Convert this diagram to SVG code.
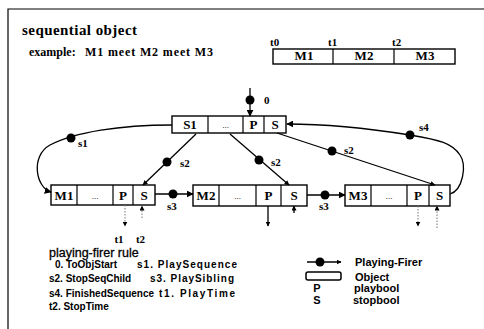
<svg xmlns="http://www.w3.org/2000/svg" width="484" height="329" viewBox="0 0 484 329">
<defs>
<marker id="ah" viewBox="0 0 10 10" refX="9" refY="5" markerWidth="7" markerHeight="7" markerUnits="userSpaceOnUse" orient="auto"><path d="M0,0 L10,5 L0,10 z" fill="#000"/></marker>
<marker id="ahs" viewBox="0 0 10 10" refX="9" refY="5" markerWidth="5" markerHeight="5" markerUnits="userSpaceOnUse" orient="auto"><path d="M0,0 L10,5 L0,10 z" fill="#000"/></marker>
</defs>
<style>
.box{fill:#fff;stroke:#000;stroke-width:1.4}
.cell{stroke:#000;stroke-width:1.2}
.lbl{font-family:"Liberation Serif",serif;font-weight:bold;font-size:13px;text-anchor:middle;fill:#000}
.dots{font-family:"Liberation Serif",serif;font-size:9px;text-anchor:middle;fill:#000}
.conn{fill:none;stroke:#000;stroke-width:1.3}
.faint{fill:none;stroke:#777;stroke-width:1;stroke-dasharray:1.5,1.5}
.dot{fill:#000}
.sl{font-family:"Liberation Serif",serif;font-weight:bold;font-size:11px;fill:#000}
.leg{font-family:"Liberation Sans",sans-serif;font-weight:bold;font-size:10px;fill:#000}
.legr{font-family:"Liberation Sans",sans-serif;font-weight:bold;font-size:11px;fill:#000}
</style>

<path d="M8,329 V9 H484" fill="none" stroke="#000" stroke-width="1.2"/>

<g id="title">
<text x="22" y="35" font-family="Liberation Serif, serif" font-weight="bold" font-size="15" textLength="115">sequential object</text>
<text x="29" y="56" font-family="Liberation Serif, serif" font-weight="bold" font-size="12">example:</text>
<text x="85" y="56" font-family="Liberation Serif, serif" font-weight="bold" font-size="12" textLength="128">M1 meet M2 meet M3</text>
</g>

<g id="timeline">
<text class="sl" x="270" y="46" font-size="10">t0</text>
<text class="sl" x="328" y="46" font-size="10">t1</text>
<text class="sl" x="392" y="46" font-size="10">t2</text>
<rect class="box" x="273" y="49" width="182" height="15"/>
<line class="cell" x1="333" y1="49" x2="333" y2="64"/>
<line class="cell" x1="394" y1="49" x2="394" y2="64"/>
<text class="lbl" x="304" y="60" font-size="9.5">M1</text>
<text class="lbl" x="364" y="60" font-size="9.5">M2</text>
<text class="lbl" x="425" y="60" font-size="9.5">M3</text>
</g>

<g id="S1">
<rect class="box" x="172" y="116" width="114" height="17"/>
<line class="cell" x1="208" y1="116" x2="208" y2="133"/>
<line class="cell" x1="243" y1="116" x2="243" y2="133"/>
<line class="cell" x1="264" y1="116" x2="264" y2="133"/>
<text class="lbl" x="190" y="129">S1</text>
<text class="dots" x="225.5" y="128">...</text>
<text class="lbl" x="253.5" y="129">P</text>
<text class="lbl" x="275" y="129">S</text>
</g>

<g id="M1">
<rect class="box" x="51" y="185" width="104" height="20"/>
<line class="cell" x1="77" y1="185" x2="77" y2="205"/>
<line class="cell" x1="113" y1="185" x2="113" y2="205"/>
<line class="cell" x1="133" y1="185" x2="133" y2="205"/>
<text class="lbl" x="64" y="200">M1</text>
<text class="dots" x="95" y="199">...</text>
<text class="lbl" x="123" y="200">P</text>
<text class="lbl" x="144" y="200">S</text>
</g>

<g id="M2">
<rect class="box" x="193" y="185" width="114" height="21"/>
<line class="cell" x1="219" y1="185" x2="219" y2="206"/>
<line class="cell" x1="256" y1="185" x2="256" y2="206"/>
<line class="cell" x1="281" y1="185" x2="281" y2="206"/>
<text class="lbl" x="206" y="200">M2</text>
<text class="dots" x="237.5" y="199">...</text>
<text class="lbl" x="268.5" y="200">P</text>
<text class="lbl" x="294" y="200">S</text>
</g>

<g id="M3">
<rect class="box" x="345" y="185" width="105" height="21"/>
<line class="cell" x1="371" y1="185" x2="371" y2="206"/>
<line class="cell" x1="407" y1="185" x2="407" y2="206"/>
<line class="cell" x1="429" y1="185" x2="429" y2="206"/>
<text class="lbl" x="358" y="200">M3</text>
<text class="dots" x="389" y="199">...</text>
<text class="lbl" x="418" y="200">P</text>
<text class="lbl" x="439.5" y="200">S</text>
</g>

<g id="connectors">
<line class="conn" x1="250" y1="88" x2="250" y2="116" marker-end="url(#ah)"/>
<circle class="dot" cx="250" cy="100" r="4.5"/>
<text class="sl" x="264" y="104">0</text>

<path class="conn" d="M172,125 C120,125 75,132 50,145 C30,156 36,188 51,192" marker-end="url(#ah)"/>
<circle class="dot" cx="71" cy="138" r="4.5"/>
<text class="sl" x="78" y="147">s1</text>

<line class="conn" x1="196" y1="134" x2="143" y2="185" marker-end="url(#ahs)"/>
<circle class="dot" cx="167" cy="162" r="4.5"/>
<text class="sl" x="180" y="167">s2</text>

<line class="conn" x1="230" y1="134" x2="289" y2="185" marker-end="url(#ahs)"/>
<circle class="dot" cx="259" cy="160" r="4.5"/>
<text class="sl" x="271" y="166">s2</text>

<line class="conn" x1="277" y1="133" x2="435" y2="185" marker-end="url(#ahs)"/>
<circle class="dot" cx="332" cy="151" r="4.5"/>
<text class="sl" x="344" y="154">s2</text>

<path class="conn" d="M450,194 C463,190 467,165 460,155 C452,143 440,140 410,135 C360,127 320,124 287,124" marker-end="url(#ah)"/>
<circle class="dot" cx="410" cy="135" r="4.5"/>
<text class="sl" x="419" y="131">s4</text>

<line class="conn" x1="155" y1="194" x2="193" y2="194" marker-end="url(#ah)"/>
<circle class="dot" cx="173" cy="194" r="4.5"/>
<text class="sl" x="167" y="210">s3</text>

<line class="conn" x1="307" y1="195" x2="345" y2="195" marker-end="url(#ah)"/>
<circle class="dot" cx="325" cy="195" r="4.5"/>
<text class="sl" x="319" y="210">s3</text>

<line class="faint" x1="125" y1="205" x2="125" y2="226" marker-end="url(#ahs)"/>
<line class="faint" x1="142" y1="218" x2="142" y2="206" marker-end="url(#ahs)"/>
<line class="conn" x1="268" y1="206" x2="268" y2="226" stroke-width="1" marker-end="url(#ahs)"/>
<line class="conn" x1="294" y1="213" x2="294" y2="206" stroke-width="1" marker-end="url(#ahs)"/>
<line class="faint" x1="418" y1="206" x2="418" y2="226" marker-end="url(#ahs)"/>
<line class="faint" x1="437" y1="228" x2="437" y2="206" marker-end="url(#ahs)"/>
<text class="sl" x="119" y="243" text-anchor="middle">t1</text>
<text class="sl" x="140.5" y="243" text-anchor="middle">t2</text>
</g>

<g id="legend-rules">
<text x="49" y="257" font-family="Liberation Sans, sans-serif" font-size="12.5" stroke="#000" stroke-width="0.3">playing-firer rule</text>
<text class="leg" x="55" y="268">0. ToObjStart</text>
<text class="leg" x="137" y="268" textLength="100">s1. PlaySequence</text>
<text class="leg" x="49" y="282">s2. StopSeqChild</text>
<text class="leg" x="150" y="282" textLength="84">s3. PlaySibling</text>
<text class="leg" x="49" y="297">s4. FinishedSequence</text>
<text class="leg" x="159" y="297" textLength="76">t1. PlayTime</text>
<text class="leg" x="49" y="310">t2. StopTime</text>
</g>

<g id="legend-symbols">
<line class="conn" x1="307" y1="262" x2="341" y2="262" marker-end="url(#ahs)"/>
<circle class="dot" cx="320" cy="262" r="4.5"/>
<text class="legr" x="355" y="266">Playing-Firer</text>
<rect x="306" y="272" width="35" height="8" rx="2" fill="#fff" stroke="#000" stroke-width="1.5"/>
<text class="legr" x="355" y="281">Object</text>
<text class="legr" x="317" y="292" text-anchor="middle">P</text>
<text class="legr" x="354" y="292">playbool</text>
<text class="legr" x="317" y="304" text-anchor="middle">S</text>
<text class="legr" x="353" y="304">stopbool</text>
</g>
</svg>
